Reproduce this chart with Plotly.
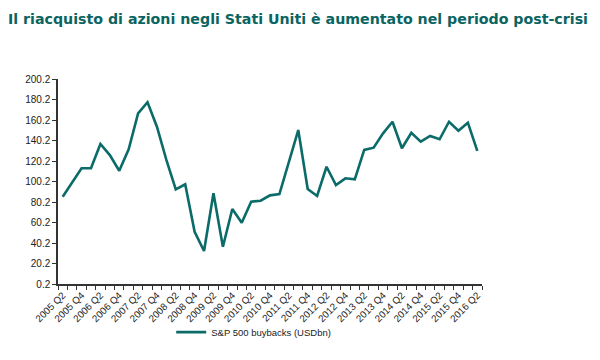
import plotly.graph_objects as go

quarters = []
for yr in range(2005, 2017):
    for q in range(1, 5):
        quarters.append(f"{yr} Q{q}")
quarters = quarters[quarters.index("2005 Q2"):quarters.index("2016 Q2") + 1]

buybacks = [85.4, 99.4, 113.1, 113.1, 136.8, 126.0, 110.7, 131.6, 166.7, 177.5,
            153.7, 121.2, 92.6, 97.5, 51.2, 32.4, 88.7, 36.6, 73.4, 60.0,
            80.5, 81.5, 86.7, 88.0, 119.2, 150.4, 92.9, 86.1, 114.6, 96.8,
            103.3, 102.3, 131.0, 133.2, 147.2, 158.5, 132.6, 147.8, 139.0, 144.6,
            141.4, 158.5, 149.8, 157.6, 130.0]

y_ticks = [0.2 + 20 * i for i in range(11)]
y_labels = [f"{v:.1f}" for v in y_ticks]

idx = list(range(len(quarters)))
label_idx = idx[::2]
label_txt = [quarters[i] for i in label_idx]

fig = go.Figure()
fig.add_trace(go.Scatter(
    x=idx, y=buybacks, mode="lines", name="S&P 500 buybacks (USDbn)",
    line=dict(color="#0b6b68", width=2.6),
))

fig.update_layout(
    width=600, height=360,
    margin=dict(l=50, r=126, t=71, b=84, autoexpand=False),
    paper_bgcolor="white", plot_bgcolor="white",
    font=dict(family="Liberation Sans, Arial, sans-serif", size=10, color="#222"),
    title=dict(
        text="<b>Il riacquisto di azioni negli Stati Uniti è aumentato nel periodo post-crisi</b>",
        x=0.0, xref="container", xanchor="left", y=0.969, yanchor="middle",
        pad=dict(l=0, r=0, t=0, b=0),
        font=dict(family="DejaVu Sans, Verdana, sans-serif", size=14.2, color="#0a6461"),
    ),
    showlegend=True,
    legend=dict(
        orientation="h", x=0.267, xanchor="left", y=-0.235, yanchor="middle",
        font=dict(size=9.5, color="#222"), bgcolor="rgba(0,0,0,0)",
        itemwidth=30,
    ),
)

fig.update_xaxes(
    range=[-0.5, len(quarters) - 0.5], automargin=False,
    tickmode="array", tickvals=label_idx, ticktext=label_txt,
    tickangle=-45, ticks="", showgrid=False, zeroline=False,
    showline=True, linecolor="#333", linewidth=1.5,
    tickfont=dict(size=9.8, color="#222"),
    minor=dict(tickmode="linear", tick0=-0.5, dtick=1, ticks="outside",
               ticklen=4, tickcolor="#333", tickwidth=1.2, showgrid=False),
)
fig.update_yaxes(
    range=[0.2, 200.2], automargin=False,
    tickmode="array", tickvals=y_ticks, ticktext=y_labels,
    ticks="outside", ticklen=4, tickcolor="#333", tickwidth=1.2,
    showgrid=False, zeroline=False,
    showline=True, linecolor="#333", linewidth=1.5,
    tickfont=dict(size=10, color="#222"),
)

fig.write_html("out.html")
